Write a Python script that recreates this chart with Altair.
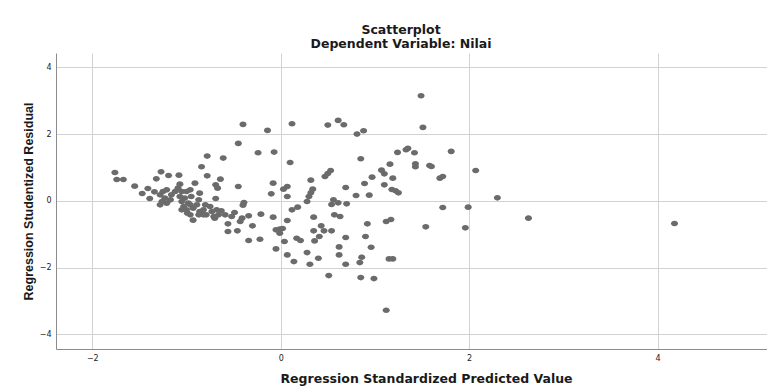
import altair as alt
import pandas as pd

# Regression Standardized Predicted Value (x) and Studentized Residual (y)
predicted = [
    -1.76, -1.74, -1.67, -1.55, -1.47, -1.41, -1.39, -1.34, -1.32, -1.27, -1.19, -1.08, -1.07,
    -0.91, -0.84, -0.78, -0.61, -0.78, -0.64, -0.69, -0.67, -0.69, -0.93,
    -1.28, -1.25, -1.21, -1.23, -1.26, -1.28, -1.21, -1.17, -1.16, -1.12, -1.09, -1.05, -1.07,
    -1.05, -1.02, -1.00, -0.96, -0.95, -0.98, -1.03, -1.05, -1.00, -0.96, -0.93, -0.89, -0.87,
    -0.86, -0.86, -0.82, -0.80, -0.79, -0.75, -0.73, -0.71, -0.68, -0.66, -0.70, -0.82, -0.87,
    -0.96, -0.99, -0.63,
    -0.45, -0.40, -0.14, -0.24, -0.07, -0.45, -0.08, -0.10, -0.39, -0.40,
    0.10, 0.03, 0.07, 0.07, -0.59, -0.52, -0.49, -0.43, -0.41, -0.34, -0.30, -0.21, -0.56, -0.56,
    -0.46, -0.34, -0.22, -0.08, -0.05, -0.01, 0.02, -0.01, 0.07, 0.12, 0.18, 0.17, 0.04, -0.05, 0.07,
    0.12, 0.50, 0.61, 0.67, 0.81, 0.88, 0.85, 1.24, 1.33, 1.35, 1.42, 0.47, 0.50, 0.53, 0.32,
    0.69, 1.07, 1.10, 1.16, 0.97, 0.89, 1.10, 1.19, 1.18, 1.22, 1.25, 0.80, 0.94, 0.28, 0.30,
    0.32, 0.34, 0.56, 0.54, 0.61, 0.70, 0.35, 0.57, 0.63, 1.12, 1.17, 0.92, 0.43, 0.35, 0.46,
    0.54, 0.41, 0.36, 0.21, 0.14, 0.31, 0.40, 0.28, 0.62, 0.62, 0.69, 0.69, 0.51, 0.85, 0.99,
    1.12, 0.90, 0.96, 0.86, 0.84, 1.15, 1.19,
    1.49, 1.51, 1.43, 1.43, 1.58, 1.60, 1.81, 2.07, 2.30, 1.69, 1.72, 1.72, 1.99, 1.54, 1.96,
    2.63, 4.18,
]
residual = [
    0.85, 0.64, 0.64, 0.44, 0.22, 0.37, 0.07, 0.27, 0.66, 0.87, 0.76, 0.77, 0.50,
    0.53, 1.02, 1.34, 1.28, 0.75, 0.65, 0.48, 0.38, 0.07, -0.58,
    0.18, 0.28, 0.33, 0.08, -0.02, -0.12, -0.07, 0.03, 0.18, 0.28, 0.38, 0.28, 0.13,
    -0.02, 0.08, 0.28, 0.33, 0.13, -0.07, -0.17, -0.27, -0.27, -0.12, -0.22, -0.12, 0.03,
    0.23, -0.32, -0.27, -0.12, -0.42, -0.17, -0.32, -0.47, -0.27, -0.42, -0.52, -0.42, -0.42,
    -0.42, -0.37, -0.30,
    1.72, 2.29, 2.11, 1.44, 1.46, 0.43, 0.53, 0.21, -0.05, -0.13,
    1.15, 0.35, 0.43, 0.13, -0.42, -0.47, -0.35, -0.62, -0.52, -0.45, -0.75, -0.40, -0.69, -0.92,
    -0.90, -1.19, -1.15, -0.49, -0.87, -0.85, -0.83, -0.97, -0.59, -0.27, -0.19, -1.12, -1.22, -1.44, -1.62,
    2.31, 2.27, 2.41, 2.28, 2.00, 2.10, 1.26, 1.45, 1.53, 1.57, 1.44, 0.73, 0.82, 0.91, 0.62,
    0.40, 0.92, 0.81, 1.10, 0.71, 0.52, 0.48, 0.68, 0.34, 0.30, 0.24, 0.16, 0.17, -0.02, 0.13,
    0.24, 0.35, 0.03, -0.11, -0.06, -0.09, -0.49, -0.42, -0.47, -0.62, -0.56, -0.69, -0.75, -0.90, -0.90,
    -0.90, -1.07, -1.20, -1.19, -1.82, -1.90, -1.72, -1.55, -1.38, -1.62, -1.10, -1.90, -2.24, -2.30, -2.33,
    -3.28, -1.07, -1.39, -1.69, -1.85, -1.74, -1.74,
    3.15, 2.20, 1.11, 1.02, 1.06, 1.03, 1.48, 0.91, 0.09, 0.68, 0.73, -0.20, -0.19, -0.78, -0.81,
    -0.52, -0.68,
]

x_ticks = [-2, 0, 2, 4]
y_ticks = [-4, -2, 0, 2, 4]

df = pd.DataFrame({"pred": predicted, "resid": residual})

ellipse = "M-1,0 A1,0.8 0 1,1 1,0 A1,0.8 0 1,1 -1,0 Z"

chart = (
    alt.Chart(df)
    .mark_point(shape=ellipse, filled=True, color="#6b6b6b", opacity=1, size=50, strokeWidth=0)
    .encode(
        x=alt.X(
            "pred:Q",
            scale=alt.Scale(domain=[-2.385, 5.162], nice=False, zero=False),
            axis=alt.Axis(
                values=x_ticks,
                title="Regression Standardized Predicted Value",
                titleFont="DejaVu Sans",
                titleFontSize=12.5,
                titleFontWeight="bold",
                titleColor="#1a1a1a",
                titleX=370,
                titleY=33,
                titleBaseline="alphabetic",
                titleAlign="center",
            ),
        ),
        y=alt.Y(
            "resid:Q",
            scale=alt.Scale(domain=[-4.44, 4.43], nice=False, zero=False),
            axis=alt.Axis(
                values=y_ticks,
                title="Regression Studentized Residual",
                titleFont="Liberation Sans",
                titleFontSize=12.5,
                titleFontWeight="bold",
                titleColor="#1a1a1a",
                titleAngle=270,
                titleX=-24,
                titleY=148,
                titleBaseline="alphabetic",
                titleAlign="center",
            ),
        ),
    )
    .properties(
        width=711,
        height=296,
        autosize=alt.AutoSizeParams(type="none"),
        padding={"left": 48, "top": 45, "right": 0, "bottom": 37},
        title=alt.TitleParams(
            text="Scatterplot",
            subtitle="Dependent Variable: Nilai",
            font="DejaVu Sans",
            fontSize=12.5,
            fontWeight="bold",
            color="#1a1a1a",
            subtitleFont="DejaVu Sans",
            subtitleFontSize=12.5,
            subtitleFontWeight="bold",
            subtitleColor="#1a1a1a",
            subtitlePadding=1,
            anchor="middle",
            dx=-10.5,
            offset=3,
        ),
    )
    .configure_view(stroke=None)
    .configure_axis(
        grid=True,
        gridColor="#d2d2d2",
        gridWidth=1,
        domainColor="#8c8c8c",
        domainWidth=1,
        ticks=False,
        tickSize=0,
        labelFont="DejaVu Sans",
        labelFontSize=8,
        labelColor="#222222",
        labelPadding=5,
    )
)

chart.save("out.html", embed_options={"renderer": "svg", "actions": False})
